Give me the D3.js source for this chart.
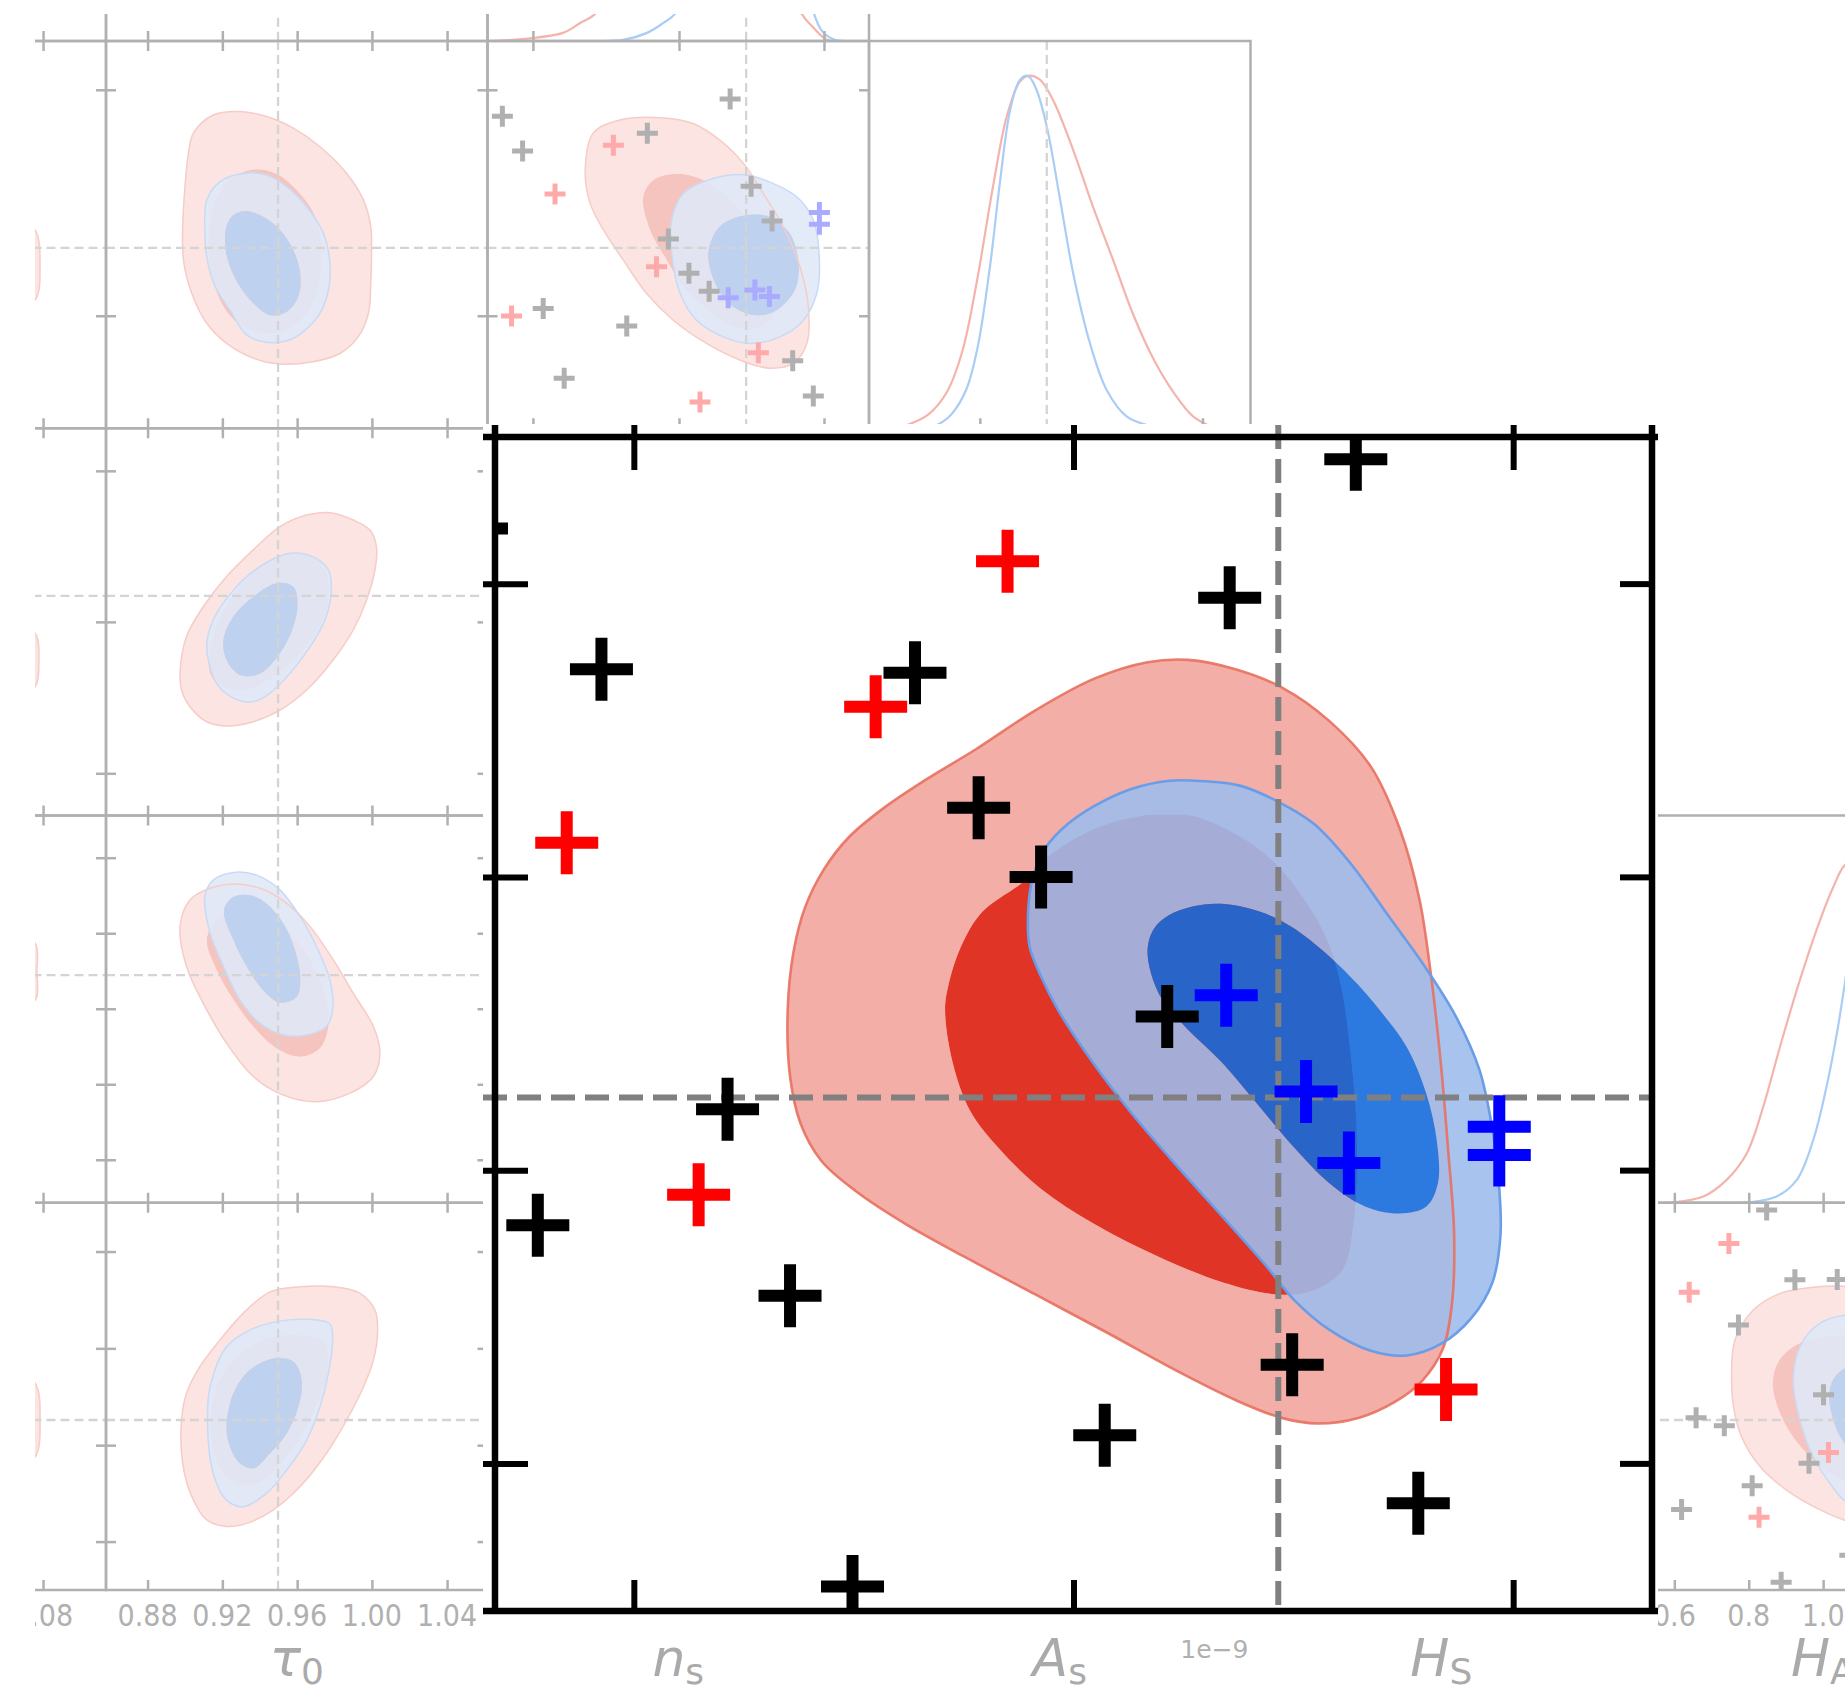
<!DOCTYPE html>
<html><head><meta charset="utf-8">
<script src="https://cdn.jsdelivr.net/npm/d3@7"></script>
<style>html,body{margin:0;padding:0;background:#fff;}svg{display:block;}</style>
</head><body>
<svg id="chart" width="1845" height="1694"></svg>
<script>
// ================= DATA =================
// Tick positions (in each cell's 0-100 units) and tick labels
const tickPosColM1 = [83.5];
const tickLabelsColM1 = ["1.08"];
const tickPosTau = [10.9, 30.5, 50.1, 69.7, 89.4];
const tickLabelsTau = ["0.88", "0.92", "0.96", "1.00", "1.04"];
const tickPosNs = [11.9, 50.2, 88.2];
const tickPosAs = [29.05, 87.4];
const tickPosHs = [10.9, 50.0, 89.0];
const tickPosHa = [11.1, 30.6, 50.1, 69.6, 89.1];
const tickLabelsHa = ["0.6", "0.8", "1.0"];
const tickPosX5 = [12.5, 37.4, 62.4, 87.4];
const truthValues = [40, 45.1, 67.8, 46.6, 56.7, 58.8, 43.9];
const axisSymbols = ["τ", "n", "A", "H", "H"];
const axisSubs = ["0", "s", "s", "S", "A"];
const offsetText = "1e\u22129";

// Background cell contours [u, v]
const r0c0RedOuter = [[22.9,76.2],[28.1,80.9],[35.1,81.8],[42.1,80.5],[49.1,77.5],[56.1,72.7],[63.1,65.8],[67.5,58.9],[69.4,52.1],[69.6,45.2],[69.4,37.4],[68.8,29.7],[66.1,23.6],[61.3,19.3],[54.3,17.2],[45.6,16.6],[38.6,18.1],[31.6,21.9],[26.4,27.1],[22.5,34.8],[20.3,43.4],[20.1,52.1],[20.7,62.4],[21.6,71.0]];
const r0c0RedInner = [[33.4,65.0],[39.5,66.9],[44.7,65.7],[49.5,62.0],[53.5,57.2],[55.7,52.1],[56.5,45.2],[55.7,36.6],[52.6,29.7],[47.4,25.4],[41.2,24.5],[35.1,26.7],[30.3,32.3],[27.7,40.0],[26.8,48.6],[28.1,57.2],[30.8,62.4]];
const r0c0BlueOuter = [[26.4,58.9],[29.9,63.7],[36.0,65.8],[42.1,65.4],[47.4,62.4],[52.6,57.2],[57.0,50.3],[58.7,42.6],[58.3,35.7],[56.1,29.7],[51.7,24.9],[47.4,22.6],[42.1,22.2],[36.9,24.1],[32.5,30.5],[28.6,36.6],[26.4,44.3],[25.9,52.1]];
const r0c0BlueInner = [[31.6,52.1],[33.4,55.1],[36.9,56.1],[41.2,54.6],[45.6,51.2],[49.1,46.0],[50.9,40.0],[50.4,34.0],[47.4,30.1],[43.0,29.2],[38.6,32.3],[35.1,36.6],[32.5,41.7],[31.3,46.9]];

const r1c0RedOuter = [[19.4,36.7],[21.1,46.2],[25.5,53.9],[31.6,61.7],[38.6,68.6],[45.6,74.6],[52.6,77.6],[58.7,78.2],[64.8,76.3],[69.2,73.7],[70.9,69.4],[70.5,63.4],[68.3,55.6],[64.8,47.9],[59.6,40.2],[52.6,32.4],[45.6,27.2],[38.6,24.2],[31.6,23.1],[26.4,24.2],[22.0,28.1],[19.8,32.4]];
const r1c0RedInner = [[27.3,36.7],[28.1,46.2],[32.5,55.6],[40.4,64.3],[48.2,67.7],[54.3,66.8],[57.8,62.5],[58.3,55.6],[56.1,48.8],[50.9,41.9],[43.9,35.9],[36.9,32.4],[30.8,33.3]];
const r1c0BlueOuter = [[26.4,43.6],[28.1,50.5],[33.4,58.2],[40.4,64.3],[48.2,67.7],[54.3,66.8],[58.3,63.4],[59.0,57.4],[57.4,50.5],[53.5,43.6],[48.2,36.7],[43.0,31.6],[38.6,29.4],[33.4,30.3],[29.0,34.1]];
const r1c0BlueInner = [[30.8,45.3],[33.4,51.4],[38.6,56.5],[44.7,60.0],[49.1,59.1],[50.2,54.8],[49.1,48.8],[45.6,41.9],[40.4,36.7],[35.1,36.3],[31.6,40.2]];

const r2c0RedOuter = [[19.4,71.3],[22.0,78.2],[27.3,81.2],[33.4,82.3],[40.4,81.2],[47.4,77.3],[53.5,71.3],[59.6,62.7],[64.8,54.1],[70.1,45.5],[71.8,38.6],[70.1,32.6],[64.0,28.3],[55.2,26.1],[46.5,27.8],[38.6,32.6],[31.6,41.2],[25.5,51.5],[21.1,61.0]];
const r2c0RedInner = [[26.4,67.9],[29.0,73.1],[35.1,75.2],[42.1,73.9],[48.2,69.6],[53.5,62.7],[57.4,54.1],[58.3,45.5],[56.1,39.9],[50.9,37.7],[44.7,39.9],[38.6,45.5],[33.4,52.4],[29.0,60.1]];
const r2c0BlueOuter = [[25.9,79.0],[28.1,83.3],[33.4,85.3],[39.5,84.6],[45.6,80.8],[50.9,73.9],[55.2,66.1],[58.7,57.5],[59.4,49.8],[57.8,45.5],[52.6,43.3],[46.5,43.3],[40.4,46.3],[35.1,52.4],[30.8,61.0],[27.3,69.6]];
const r2c0BlueInner = [[30.9,75.6],[33.4,79.0],[37.7,79.5],[42.1,77.3],[46.5,72.2],[49.5,65.3],[50.9,58.4],[50.0,53.2],[45.6,51.7],[41.2,54.9],[36.9,61.0],[33.4,67.9]];

const r3c0RedOuter = [[19.8,43.9],[21.1,50.8],[24.6,57.7],[29.9,64.6],[36.0,71.5],[43.0,77.0],[50.9,78.3],[59.6,78.3],[66.6,76.6],[70.5,72.3],[71.2,67.1],[70.1,59.4],[67.5,52.5],[63.1,43.9],[57.8,35.3],[50.9,26.7],[43.9,20.7],[36.9,17.2],[31.6,16.4],[26.4,18.1],[22.5,24.1],[20.1,32.7]];
const r3c0RedInner = [[27.3,42.2],[29.0,52.5],[35.1,61.1],[43.9,65.4],[52.6,65.6],[57.4,63.7],[58.3,57.7],[56.1,49.9],[52.6,42.2],[47.4,34.4],[41.2,28.4],[36.0,27.1],[30.8,30.1],[28.1,36.2]];
const r3c0BlueOuter = [[26.6,43.9],[27.3,52.5],[31.6,62.8],[37.7,67.1],[44.7,69.3],[52.6,69.9],[58.7,68.7],[59.4,64.6],[58.3,56.0],[56.1,47.3],[52.6,38.7],[47.4,31.0],[42.1,25.0],[36.0,21.5],[31.6,23.2],[28.1,30.1]];
const r3c0BlueInner = [[31.6,42.2],[33.4,50.8],[37.7,56.8],[43.9,59.8],[49.1,59.0],[51.3,54.2],[50.4,47.3],[47.4,40.5],[43.0,35.3],[38.6,31.4],[35.1,32.7],[32.5,37.0]];

const r0c1RedOuter = [[25.6,65.8],[27.7,76.2],[34.7,79.6],[45.2,80.2],[53.9,78.7],[60.9,74.4],[67.1,68.4],[72.3,60.6],[77.5,52.1],[81.9,41.7],[84.1,31.4],[83.7,21.9],[80.2,16.8],[74.0,15.5],[66.2,17.6],[57.4,21.9],[48.7,27.9],[41.7,34.8],[35.6,43.4],[30.4,51.2],[26.9,58.1]];
const r0c1RedInner = [[40.8,59.8],[43.5,64.1],[49.6,65.7],[56.6,64.1],[62.7,59.8],[69.7,52.1],[74.9,43.4],[76.7,34.8],[74.0,27.9],[68.8,25.4],[62.7,27.1],[56.6,31.4],[51.3,36.6],[47.0,43.4],[42.6,51.2]];
const r0c1BlueOuter = [[48.3,53.8],[51.3,60.6],[59.2,64.5],[67.9,65.4],[74.9,63.2],[81.0,59.8],[85.4,53.8],[87.0,43.4],[86.3,34.8],[82.8,27.9],[76.7,23.6],[68.8,21.9],[61.8,23.6],[54.8,27.9],[50.5,34.8],[48.3,45.2]];
const r0c1BlueInner = [[57.9,45.2],[60.9,52.1],[67.9,55.1],[74.0,54.6],[79.3,50.3],[81.6,42.6],[80.6,35.7],[75.8,30.5],[70.6,29.2],[64.4,31.4],[60.1,36.6]];
const r0c1GrayPts = [[63.6,85.0],[3.9,80.6],[41.9,76.2],[9.2,71.6],[69.1,62.5],[74.6,53.5],[47.4,48.9],[52.8,40.0],[58.1,35.4],[14.6,30.9],[36.5,26.4],[80.0,17.4],[20.1,12.9],[85.4,8.3]];
const r0c1RedPts = [[33.0,73.1],[17.7,60.5],[44.3,41.7],[6.3,29.0],[71.0,19.5],[55.7,6.8]];
const r0c1BluePts = [[87.0,55.7],[87.0,52.7],[63.1,33.7],[70.1,35.7],[73.9,34.0]];

const r3c4RedOuter = [[26.1,54.2],[27.0,64.6],[31.8,72.3],[38.8,76.6],[47.5,78.2],[58.0,78.3],[66.8,76.6],[75.5,71.4],[79.9,54.2],[77.2,32.7],[71.1,19.8],[63.3,15.9],[58.0,17.2],[49.3,20.7],[40.5,25.8],[33.6,31.8],[28.7,39.6],[26.6,47.3]];
const r3c4RedInner = [[36.9,52.5],[38.4,59.0],[43.2,63.3],[50.2,65.4],[58.0,65.8],[65.9,63.7],[70.2,55.9],[69.4,43.0],[65.0,32.7],[58.0,28.0],[51.9,30.1],[45.8,35.3],[40.5,42.2]];
const r3c4BlueOuter = [[42.3,54.2],[44.0,62.8],[49.3,68.9],[56.3,71.0],[65.0,70.6],[71.1,66.3],[73.7,57.7],[72.9,43.9],[68.5,31.8],[62.4,23.2],[56.3,22.8],[51.9,27.5],[47.5,34.4],[44.0,43.9]];
const r3c4BlueInner = [[51.7,50.8],[53.6,55.5],[58.0,58.1],[64.1,57.7],[67.6,52.5],[66.8,43.9],[63.3,37.9],[58.0,36.2],[54.1,40.5]];
const r3c4GrayPts = [[35.3,98.1],[42.7,80.1],[53.8,80.2],[27.9,68.4],[50.2,50.4],[16.8,44.5],[24.2,42.4],[46.4,32.7],[31.5,26.9],[13.0,20.8],[39.1,2.0],[57.1,9.0]];
const r3c4RedPts = [[25.4,89.5],[15.0,76.9],[51.5,35.5],[33.3,18.8]];

// slivers of the column left of tau_0
const sliverR0 = [[75,55],[81.4,51.2],[82.7,42.2],[81.4,33.1],[75,30]];
const sliverR1 = [[75,50],[81.4,47.1],[82.4,40.2],[81.4,33.2],[75,30]];
const sliverR2 = [[75,70],[81.4,67.1],[81.9,59.7],[81.4,52.3],[75,50]];
const sliverR3 = [[75,57],[81.4,53.5],[82.7,43.9],[81.4,34.3],[75,31]];

// 1D marginals [u, density 0-100]
const histNsRed = [[0,0],[6.7,0.3],[19.8,2.1],[24.2,4.6],[28.2,7.0],[31,12],[40,50],[55,91],[70,60],[78,20],[82.4,7.0],[85.3,3.6],[89.0,0.3],[92,0]];
const histNsBlue = [[30,0],[35.5,0.3],[41.8,2.1],[46.0,4.6],[49.1,7.0],[52,15],[60,60],[70,91],[80,50],[84,15],[85.6,7.0],[87.9,2.3],[91.0,0.3],[94,0]];
const histAsRed = [[6.8,0],[9.9,0.8],[15.5,3.5],[20.5,9.5],[24.5,20],[28.2,37.5],[32.5,62.4],[36.1,80.5],[39.4,89.3],[41.7,91.0],[44.8,90.0],[48.2,84.8],[53.5,71.9],[58.7,57.2],[64.0,43.4],[69.2,29.5],[74.5,18],[80,9],[85,3],[90.7,0]];
const histAsBlue = [[14.7,0],[17.7,0.8],[21.5,3.5],[25.5,10],[28.5,21],[31.7,41.7],[34.3,63.3],[37.0,82.2],[39.6,90.0],[41.7,91.0],[43.9,87.4],[46.6,77.9],[50.1,59.0],[53.5,40.1],[57.9,22.0],[62.3,9.9],[67.6,3.0],[73.7,0.6],[77.6,0]];
const histHaRed = [[8,0],[10.8,0.1],[18.7,1.6],[24.8,5.9],[30.1,12.8],[34.4,24.8],[38.8,40.3],[44.0,57.5],[49.3,73.0],[52.8,81.6],[55.8,87.2],[62,91],[70,80],[80,40],[90,5],[95,0]];
const histHaBlue = [[28,0],[30.9,0.1],[37.9,1.6],[43.2,5.9],[47.5,16.2],[51.0,30.0],[53.7,43.7],[55.8,56.7],[60,85],[63,91],[67,80],[75,30],[82,3],[86,0]];

// Main (enlarged) panel, 0-100 units
const mainTicksX = [12, 50, 88];
const mainTicksY = [12.5, 37.5, 62.5, 87.5];
const mainTruth = [67.7, 43.7];
const mainRedOuter = [[25.3,51.2],[25.8,56.1],[26.8,59.9],[28.4,63.1],[30.6,65.9],[33.5,68.3],[37.1,70.7],[41.6,73.4],[46.7,76.7],[51.8,79.4],[56.4,80.8],[59.9,81.0],[64.0,80.2],[68.1,78.6],[72.1,75.8],[75.7,71.9],[78.2,66.6],[79.9,60.6],[80.9,54.1],[81.7,47.1],[82.4,39.0],[82.9,32.0],[82.7,26.0],[81.9,22.2],[80.1,19.5],[77.7,17.7],[74.7,16.4],[71.1,15.9],[67.9,16.4],[64.0,17.9],[58.9,20.4],[52.8,23.7],[46.7,26.9],[40.6,30.1],[35.5,32.9],[31.2,35.7],[28.2,38.3],[26.4,41.5],[25.5,45.5]];
const mainRedInner = [[38.9,51.1],[39.2,53.3],[40.3,56.6],[42.1,59.5],[45.7,62.1],[47.9,64.3],[51.8,66.6],[55.8,67.7],[58.3,67.8],[60.4,67.7],[64.3,66.0],[67.4,63.7],[70.0,60.5],[71.9,57.2],[73.1,53.3],[74.0,47.0],[74.5,40.0],[74.2,32.9],[73.2,28.9],[70.6,27.2],[67.6,26.9],[63.0,27.9],[57.4,30.1],[51.8,32.9],[47.2,35.9],[43.7,39.2],[41.1,42.5],[39.6,46.5]];
const mainBlueOuter = [[58.3,70.7],[55.0,70.0],[51.9,68.6],[49.5,67.0],[47.6,65.0],[46.5,62.5],[46.1,59.9],[46.2,56.6],[47.2,54.0],[48.7,51.1],[51.8,46.5],[54.9,42.5],[58.9,37.9],[63.0,33.4],[66.6,29.4],[69.1,26.4],[72.1,23.9],[75.7,22.1],[78.8,21.7],[81.8,22.7],[84.4,24.9],[86.2,27.9],[86.9,31.9],[86.8,35.9],[86.2,41.0],[85.1,46.0],[83.1,50.5],[80.4,54.8],[77.2,59.2],[73.9,63.7],[70.8,67.0],[67.7,68.9],[64.3,70.3],[60.4,70.7]];
const mainBlueInner = [[56.4,56.0],[56.9,58.0],[58.2,59.2],[60.4,60.0],[62.8,60.2],[66.2,59.5],[68.9,58.2],[71.9,55.9],[74.6,53.3],[76.5,51.1],[78.8,48.0],[80.5,44.0],[81.4,40.0],[81.5,36.4],[80.5,34.4],[78.2,33.8],[75.2,34.4],[72.1,36.4],[69.1,39.4],[66.0,43.0],[63.0,46.5],[59.4,50.0],[57.4,52.5]];
const mainBlackPts = [[74.4,98.1],[63.5,86.3],[9.2,80.2],[36.3,79.9],[41.8,68.4],[47.2,62.5],[58.1,50.6],[20.1,42.7],[3.7,32.8],[25.5,26.8],[68.9,20.9],[52.7,14.9],[79.8,9.1],[30.9,2.0],[-1.6,92.2]];
const mainRedPts = [[44.3,89.4],[32.9,77.0],[6.2,65.4],[17.6,35.4],[82.2,18.8]];
const mainBluePts = [[63.2,52.4],[70.1,44.2],[73.8,38.1],[86.8,41.2],[86.8,38.8]];

// ================= TABLES BUILT FROM DATA =================
const paramTicks = [tickPosColM1, tickPosTau, tickPosNs, tickPosAs, tickPosHs, tickPosHa, tickPosX5];
const contourSets = {
  "0,0": [r0c0RedOuter, r0c0RedInner, r0c0BlueOuter, r0c0BlueInner],
  "1,0": [r1c0RedOuter, r1c0RedInner, r1c0BlueOuter, r1c0BlueInner],
  "2,0": [r2c0RedOuter, r2c0RedInner, r2c0BlueOuter, r2c0BlueInner],
  "3,0": [r3c0RedOuter, r3c0RedInner, r3c0BlueOuter, r3c0BlueInner],
  "0,1": [r0c1RedOuter, r0c1RedInner, r0c1BlueOuter, r0c1BlueInner],
  "3,4": [r3c4RedOuter, r3c4RedInner, r3c4BlueOuter, r3c4BlueInner]
};
const sliverSets = {"0,-1": sliverR0, "1,-1": sliverR1, "2,-1": sliverR2, "3,-1": sliverR3};
const histSets = {"-1,1": [histNsRed, histNsBlue], "0,2": [histAsRed, histAsBlue], "2,4": [histHaRed, histHaBlue]};
const crossSets = {
  "0,1": [[r0c1GrayPts, "#b0b0b0"], [r0c1RedPts, "#ffaaaa"], [r0c1BluePts, "#aaaaff"]],
  "3,4": [[r3c4GrayPts, "#b0b0b0"], [r3c4RedPts, "#ffaaaa"]]
};
const bottomLabelSets = [[-1, tickPosColM1, tickLabelsColM1], [0, tickPosTau, tickLabelsTau], [4, tickPosHa, tickLabelsHa]];

// ================= DRAWING =================
const svg = d3.select("#chart");
const defs = svg.append("defs");
defs.append("clipPath").attr("id", "figClip").append("rect")
  .attr("x", 35).attr("y", 14).attr("width", 1810).attr("height", 1680);

const CW = 381.5, CH = 387.25, GX = 106, GY = 41;
const GRID = "#b0b0b0";
const lightStyle = {ro: "#fbe4e1", ri: "#f6c4bf", bo: "rgb(223,232,248)", boA: 0.88, bi: "#bed2f0", biA: 1,
  roS: "#f6ccc6", boS: "#c8dbf5", sw: 1.5, sA: 1};
const mainStyle = {ro: "#f2aea7", ri: "#e03426", bo: "rgb(157,189,236)", boA: 0.89, bi: "rgb(0,111,237)", biA: 0.82,
  roS: "#e8705f", boS: "#6a9de8", sw: 2.6, sA: 0.9};

function closedLine(xs, ys) {
  return d3.line().x(d => xs(d[0])).y(d => ys(d[1])).curve(d3.curveCatmullRomClosed.alpha(0.5));
}
function drawContours(g, xs, ys, set, st) {
  const L = closedLine(xs, ys);
  const [ro, ri, bo, bi] = set;
  g.append("path").attr("d", L(ro) + L(ri)).attr("fill-rule", "evenodd").attr("fill", st.ro);
  g.append("path").attr("d", L(ri)).attr("fill", st.ri);
  g.append("path").attr("d", L(bo) + L(bi)).attr("fill-rule", "evenodd").attr("fill", st.bo).attr("fill-opacity", st.boA);
  g.append("path").attr("d", L(bi)).attr("fill", st.bi).attr("fill-opacity", st.biA);
  g.append("path").attr("d", L(ro)).attr("fill", "none").attr("stroke", st.roS).attr("stroke-width", st.sw).attr("stroke-opacity", st.sA);
  g.append("path").attr("d", L(bo)).attr("fill", "none").attr("stroke", st.boS).attr("stroke-width", st.sw);
}
function drawCrosses(g, xs, ys, pts, color, half, w) {
  const d = pts.map(p => {
    const x = xs(p[0]), y = ys(p[1]);
    return `M${x - half},${y}H${x + half}M${x},${y - half}V${y + half}`;
  }).join("");
  g.append("path").attr("d", d).attr("stroke", color).attr("stroke-width", w).attr("fill", "none");
}
function addAxis(g, axis, tx, ty, color, w) {
  const a = g.append("g").attr("transform", `translate(${tx},${ty})`)
    .call(axis.tickFormat("").tickSizeOuter(0));
  a.select(".domain").remove();
  a.attr("color", color);
  a.selectAll("line").attr("stroke-width", w);
  return a;
}

const root = svg.append("g").attr("clip-path", "url(#figClip)");

for (let r = -1; r <= 3; r++) {
  for (let c = -1; c <= Math.min(r + 2, 4); c++) {
    const x0 = GX + c * CW, y0 = GY + r * CH;
    const xs = d3.scaleLinear().domain([0, 100]).range([x0, x0 + CW]);
    const ys = d3.scaleLinear().domain([0, 100]).range([y0 + CH, y0]);
    const diag = (c === r + 2);
    const key = `${r},${c}`;
    const id = `cell_${r + 1}_${c + 1}`;
    defs.append("clipPath").attr("id", id).append("rect")
      .attr("x", x0).attr("y", y0).attr("width", CW).attr("height", CH);
    const cg = root.append("g");
    const inner = cg.append("g").attr("clip-path", `url(#${id})`);

    if (sliverSets[key]) {
      const L = closedLine(xs, ys);
      inner.append("path").attr("d", L(sliverSets[key])).attr("fill", lightStyle.ro)
        .attr("stroke", lightStyle.roS).attr("stroke-width", 1.5);
    }
    if (contourSets[key]) drawContours(inner, xs, ys, contourSets[key], lightStyle);
    if (histSets[key]) {
      const hl = d3.line().x(d => xs(d[0])).y(d => ys(d[1])).curve(d3.curveCatmullRom.alpha(0.5));
      const [hr, hb] = histSets[key];
      inner.append("path").attr("d", hl(hr)).attr("fill", "none").attr("stroke", "#f4b4ac").attr("stroke-width", 2.2);
      inner.append("path").attr("d", hl(hb)).attr("fill", "none").attr("stroke", "#a9cdf6").attr("stroke-width", 2.2);
    }
    // truth lines
    const tx = xs(truthValues[c + 1]);
    inner.append("line").attr("x1", tx).attr("x2", tx).attr("y1", y0).attr("y2", y0 + CH)
      .attr("stroke", "#d4d4d4").attr("stroke-width", 2.3).attr("stroke-dasharray", "9,5");
    if (!diag) {
      const ty = ys(truthValues[r + 3]);
      inner.append("line").attr("x1", x0).attr("x2", x0 + CW).attr("y1", ty).attr("y2", ty)
        .attr("stroke", "#d4d4d4").attr("stroke-width", 2.3).attr("stroke-dasharray", "9,5");
    }
    if (crossSets[key]) crossSets[key].forEach(([pts, col]) => drawCrosses(inner, xs, ys, pts, col, 10.5, 5));

    // spines
    cg.append("rect").attr("x", x0).attr("y", y0).attr("width", CW).attr("height", CH)
      .attr("fill", "none").attr("stroke", GRID).attr("stroke-width", 2.5);
    // ticks
    const xt = paramTicks[c + 1], yt = paramTicks[r + 3];
    addAxis(cg, d3.axisBottom(xs).tickValues(xt).tickSize(-10), 0, y0 + CH, GRID, 2.5);
    if (!diag) {
      addAxis(cg, d3.axisTop(xs).tickValues(xt).tickSize(-10), 0, y0, GRID, 2.5);
      addAxis(cg, d3.axisLeft(ys).tickValues(yt).tickSize(-10), x0, 0, GRID, 2.5);
      addAxis(cg, d3.axisRight(ys).tickValues(yt).tickSize(-10), x0 + CW, 0, GRID, 2.5);
    }
  }
}

// bottom-row tick labels
const TICKFONT = "'DejaVu Sans Condensed','DejaVu Sans',sans-serif";
bottomLabelSets.forEach(([c, pos, labels]) => {
  const x0 = GX + c * CW;
  const xs = d3.scaleLinear().domain([0, 100]).range([x0, x0 + CW]);
  root.append("g").selectAll("text").data(labels).join("text")
    .attr("x", (d, i) => xs(pos[i])).attr("y", 1626).attr("text-anchor", "middle")
    .attr("font-family", TICKFONT).attr("font-stretch", "condensed").attr("font-size", 30)
    .attr("fill", "#b0b0b0").text(d => d);
});

// axis labels
axisSymbols.forEach((s, i) => {
  const cx = GX + i * CW + CW / 2;
  const t = svg.append("text").attr("x", cx).attr("y", 1676).attr("text-anchor", "middle")
    .attr("font-family", "'DejaVu Sans',sans-serif").attr("font-size", 52).attr("fill", "#aaaaaa");
  t.append("tspan").attr("font-style", "italic").text(s);
  t.append("tspan").attr("font-size", 36).attr("dy", 8).text(axisSubs[i]);
});
svg.append("text").attr("x", GX + 3 * CW - 2).attr("y", 1658).attr("text-anchor", "end")
  .attr("font-family", "'DejaVu Sans',sans-serif").attr("font-size", 25).attr("fill", "#b0b0b0").text(offsetText);

// ================= MAIN PANEL =================
const mx = d3.scaleLinear().domain([0, 100]).range([495, 1652]);
const my = d3.scaleLinear().domain([0, 100]).range([1610, 437]);
const PAD = 12;
svg.append("rect").attr("x", mx(0) - PAD).attr("y", my(100) - 13)
  .attr("width", mx(100) - mx(0) + PAD + 6).attr("height", my(0) - my(100) + 13 + 26).attr("fill", "#fff");
defs.append("clipPath").attr("id", "mainClip").append("rect")
  .attr("x", mx(0)).attr("y", my(100)).attr("width", mx(100) - mx(0)).attr("height", my(0) - my(100));
const mg = svg.append("g").attr("clip-path", "url(#mainClip)");
drawContours(mg, mx, my, [mainRedOuter, mainRedInner, mainBlueOuter, mainBlueInner], mainStyle);

// truth dashed lines
svg.append("line").attr("x1", mx(mainTruth[0])).attr("x2", mx(mainTruth[0]))
  .attr("y1", my(100) - PAD).attr("y2", my(0))
  .attr("stroke", "#808080").attr("stroke-width", 6).attr("stroke-dasharray", "24,10");
svg.append("line").attr("x1", mx(0) - PAD).attr("x2", mx(100))
  .attr("y1", my(mainTruth[1])).attr("y2", my(mainTruth[1]))
  .attr("stroke", "#808080").attr("stroke-width", 6).attr("stroke-dasharray", "24,10");

const mg2 = svg.append("g").attr("clip-path", "url(#mainClip)");
drawCrosses(mg2, mx, my, mainBlackPts, "#000", 31.5, 12);
drawCrosses(mg2, mx, my, mainRedPts, "#ff0000", 31.5, 12);
drawCrosses(mg2, mx, my, mainBluePts, "#0000ff", 31.5, 12);

// frame
const fr = svg.append("g").attr("stroke", "#000").attr("stroke-width", 6.5);
fr.append("line").attr("x1", mx(0) - PAD).attr("x2", mx(100) + 6).attr("y1", my(100)).attr("y2", my(100));
fr.append("line").attr("x1", mx(0) - PAD).attr("x2", mx(100) + 6).attr("y1", my(0) + 1).attr("y2", my(0) + 1);
fr.append("line").attr("x1", mx(0)).attr("x2", mx(0)).attr("y1", my(100) - PAD).attr("y2", my(0) + 4);
fr.append("line").attr("x1", mx(100)).attr("x2", mx(100)).attr("y1", my(100) - PAD).attr("y2", my(0) + 4);
addAxis(svg, d3.axisTop(mx).tickValues(mainTicksX).tickSize(-45), 0, my(100) - PAD, "#000", 6);
addAxis(svg, d3.axisBottom(mx).tickValues(mainTicksX).tickSize(-31), 0, my(0) + 1, "#000", 6);
addAxis(svg, d3.axisLeft(my).tickValues(mainTicksY).tickSize(-45), mx(0) - PAD, 0, "#000", 6);
addAxis(svg, d3.axisRight(my).tickValues(mainTicksY).tickSize(-32), mx(100), 0, "#000", 6);
</script>
</body></html>
